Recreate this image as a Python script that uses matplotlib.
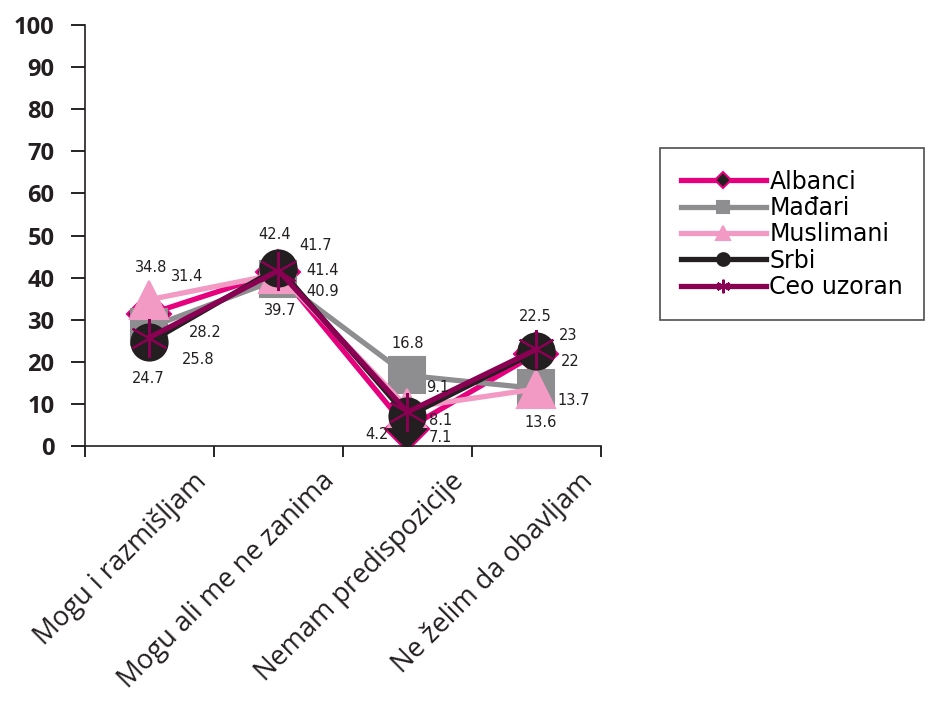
import numpy as np
import matplotlib.pyplot as plt

# response categories and shares (%) per group
categories = ["Mogu i razmišljam", "Mogu ali me ne zanima", "Nemam predispozicije", "Ne želim da obavljam"]
groups = ["Albanci", "Mađari", "Muslimani", "Srbi", "Ceo uzoran"]
albanci = [31.4, 41.4, 4.2, 22]
madjari = [28.2, 39.7, 16.8, 13.7]
muslimani = [34.8, 40.9, 9.1, 13.6]
srbi = [24.7, 42.4, 7.1, 22.5]
ceo_uzoran = [25.8, 41.7, 8.1, 23]
series = [albanci, madjari, muslimani, srbi, ceo_uzoran]

colors = ["#E6007E", "#8E8E90", "#F39AC4", "#231F20", "#8A0052"]
markers = ["D", "s", "^", "o", (6, 2, 0)]
msizes = [22, 26, 28, 26, 28]
mfaces = ["#231F20", "#8E8E90", "#F39AC4", "#231F20", "#8A0052"]

# label offsets (points) for each group at each category
offsets = [
    [(27, 27), (32, 1), (-22, -4), (24, -6)],
    [(40, -4), (1, -23), (0, 23), (27, -9)],
    [(1, 23), (32, -13), (22, 15), (3, -24)],
    [(-1, -26), (-3, 24), (24, -15), (-1, 25)],
    [(35, -16), (27, 18), (24, -6), (23, 10)],
]

plt.rcParams["font.family"] = ["DejaVu Sans"]
fig = plt.figure(figsize=(9.37, 7.06), dpi=100)
ax = fig.add_axes([0.0907, 0.368, 0.5507, 0.5966])

x = np.arange(len(categories))
for vals, name, c, m, ms, mf in zip(series, groups, colors, markers, msizes, mfaces):
    ax.plot(x, vals, color=c, lw=3.8, marker=m, markersize=ms, markerfacecolor=mf,
            markeredgecolor=c, markeredgewidth=1.5,
            label=name, solid_joinstyle="miter")

for vals, offs in zip(series, offsets):
    for xi, v, (dx, dy) in zip(x, vals, offs):
        ax.annotate(f"{v:g}", (xi, v), xytext=(dx, dy), textcoords="offset points",
                    ha="center", va="center", fontsize=10.5, color="#231F20")

ax.set_xlim(-0.5, 3.5)
ax.set_ylim(0, 100)
ax.set_yticks(range(0, 101, 10))
ax.set_yticklabels([str(v) for v in range(0, 101, 10)], fontsize=17, fontweight="bold",
                   family="Open Sans", color="#231F20")
ax.set_xticks(np.arange(-0.5, 4, 1))
ax.set_xticklabels([])
for xi, cat in zip(x, categories):
    ax.text(xi + 0.33, -5.0, cat, rotation=45, ha="right", va="top", rotation_mode="anchor",
            fontsize=19.5, family="Open Sans", color="#231F20")

ax.tick_params(axis="y", direction="out", length=10, width=1.2, pad=12)
ax.tick_params(axis="x", direction="out", length=8, width=1.2)
for s in ["top", "right"]:
    ax.spines[s].set_visible(False)
for s in ["left", "bottom"]:
    ax.spines[s].set_linewidth(1.2)
    ax.spines[s].set_color("#231F20")

leg = fig.legend(loc="upper left", bbox_to_anchor=(0.704, 0.79), fontsize=17,
                 frameon=True, fancybox=False, edgecolor="#231F20", handlelength=3.6,
                 handletextpad=0.15, borderpad=0.9, labelspacing=0.1, markerscale=0.35,
                 borderaxespad=0)
leg.get_frame().set_linewidth(1.2)

fig.savefig("out.png", dpi=100)
